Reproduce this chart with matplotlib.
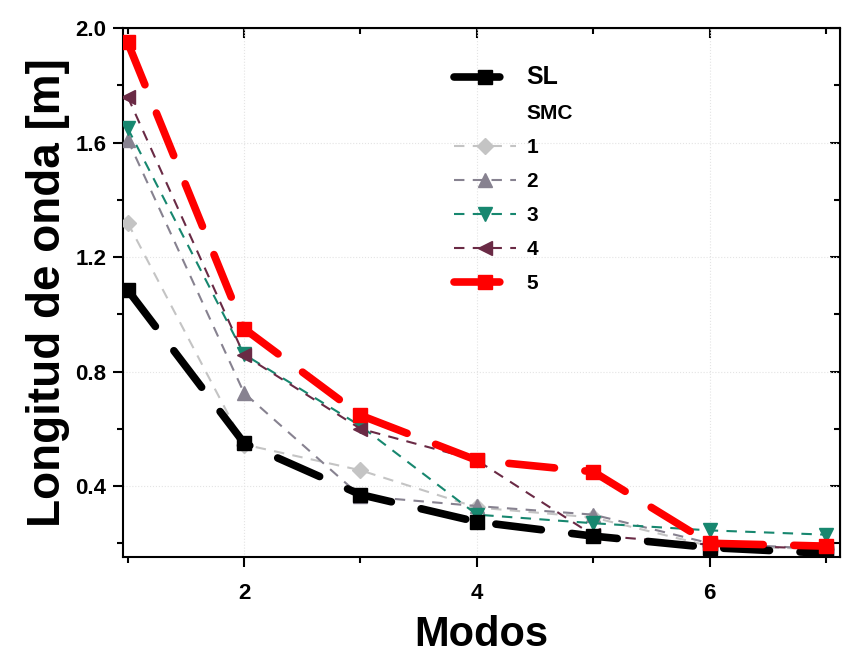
import matplotlib
matplotlib.use("Agg")
import matplotlib.pyplot as plt
from matplotlib.lines import Line2D
from matplotlib.ticker import MultipleLocator

plt.rcParams['font.family'] = ['Liberation Sans', 'DejaVu Sans']

modos = [1, 2, 3, 4, 5, 6, 7]
sl   = [1.085, 0.55, 0.37, 0.275, 0.225, 0.185, 0.165]
smc1 = [1.32, 0.545, 0.455, 0.325, 0.29, 0.19, 0.18]
smc2 = [1.61, 0.725, 0.365, 0.33, 0.30, 0.20, 0.18]
smc3 = [1.65, 0.86, 0.61, 0.30, 0.27, 0.245, 0.23]
smc4 = [1.76, 0.857, 0.60, 0.49, 0.228, 0.195, 0.18]
smc5 = [1.95, 0.95, 0.647, 0.49, 0.45, 0.20, 0.19]
labels = ['1', '2', '3', '4', '5']

fig = plt.figure(figsize=(8.42, 6.65), dpi=100)
ax = fig.add_axes([123/842, 1-557/665, (840-123)/842, (557-28)/665])

thin = (0, (5, 4))
thick = (0, (6, 4))

l_sl, = ax.plot(modos, sl, color='black', lw=5.5, ls=thick, dash_capstyle='round',
                marker='s', ms=10, mec='black', zorder=5)
l1, = ax.plot(modos, smc1, color='#c4c4c4', lw=1.5, ls=thin, marker='D', ms=8, zorder=4)
l2, = ax.plot(modos, smc2, color='#878290', lw=1.5, ls=thin, marker='^', ms=10, zorder=4)
l3, = ax.plot(modos, smc3, color='#17876f', lw=1.5, ls=thin, marker='v', ms=10, zorder=4)
l4, = ax.plot(modos, smc4, color='#6a2a45', lw=1.5, ls=thin, marker='<', ms=10, zorder=4)
l5, = ax.plot(modos, smc5, color='#ff0000', lw=5.5, ls=thick, dash_capstyle='round',
              marker='s', ms=10, mec='#ff0000', zorder=6)

ax.set_xlim(0.96, 7.12)
ax.set_ylim(0.152, 2.0)
ax.xaxis.set_major_locator(MultipleLocator(2))
ax.xaxis.set_minor_locator(MultipleLocator(1))
ax.yaxis.set_major_locator(MultipleLocator(0.4))
ax.yaxis.set_minor_locator(MultipleLocator(0.2))
ax.tick_params(which='both', direction='out', width=1.5, top=False, right=False)
ax.tick_params(which='major', length=7, labelsize=16)
ax.tick_params(axis='x', which='major', pad=12)
ax.tick_params(axis='y', which='major', pad=5)
ax.tick_params(which='minor', length=4)
for lab in ax.get_xticklabels() + ax.get_yticklabels():
    lab.set_fontweight('bold')
# inward ticks on top/right
sec = ax.secondary_xaxis('top')
sec.xaxis.set_major_locator(MultipleLocator(2))
sec.xaxis.set_minor_locator(MultipleLocator(1))
sec.tick_params(which='both', direction='in', width=1.5, labeltop=False)
sec.tick_params(which='major', length=7)
sec.tick_params(which='minor', length=4)
secy = ax.secondary_yaxis('right')
secy.yaxis.set_major_locator(MultipleLocator(0.4))
secy.yaxis.set_minor_locator(MultipleLocator(0.2))
secy.tick_params(which='both', direction='in', width=1.5, labelright=False)
secy.tick_params(which='major', length=7)
secy.tick_params(which='minor', length=4)

for s in ax.spines.values():
    s.set_linewidth(1.5)
ax.grid(True, ls=':', color='#e4e4e4', lw=0.8)

ax.set_xlabel('Modos', fontsize=30, fontweight='bold', labelpad=8)
ax.set_ylabel('Longitud de onda [m]', fontsize=33, fontweight='bold', labelpad=4)

blank = Line2D([], [], color='none')
leg = ax.legend([l_sl, blank, l1, l2, l3, l4, l5], ['SL', 'SMC'] + labels,
                loc='upper left', bbox_to_anchor=(0.435, 0.965), frameon=False,
                handlelength=3.0, labelspacing=0.72, handletextpad=0.5,
                prop={'weight': 'bold', 'size': 15})
for t in leg.get_texts():
    if t.get_text() == 'SL':
        t.set_fontsize(18)
fig.savefig('out.png', dpi=100)
